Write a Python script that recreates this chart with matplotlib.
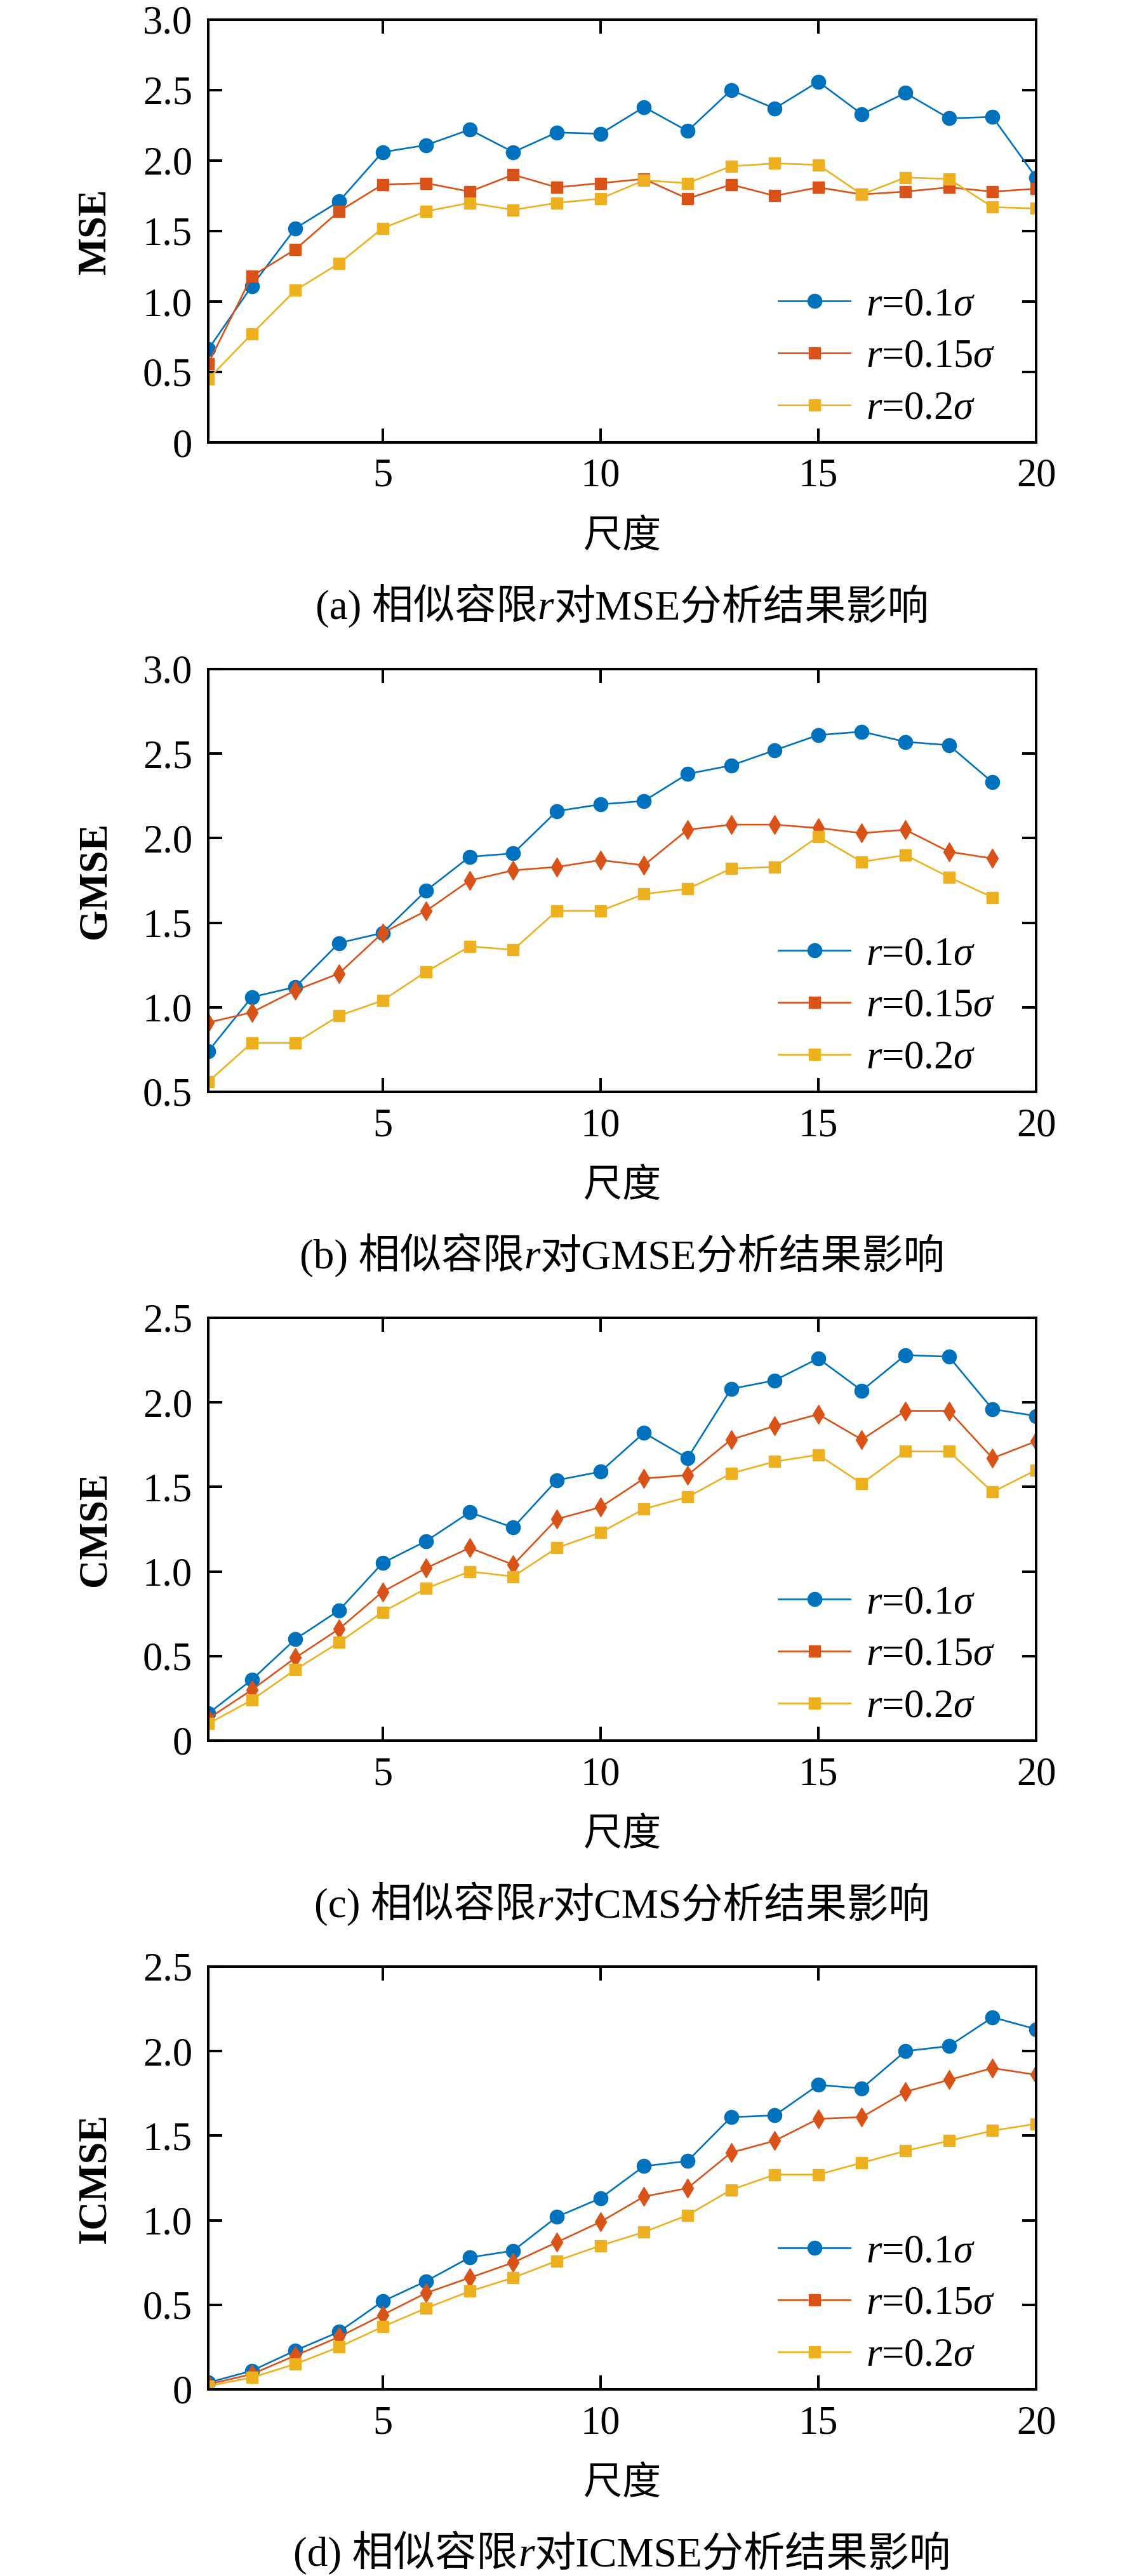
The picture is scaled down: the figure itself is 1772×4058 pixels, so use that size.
import numpy as np
import matplotlib
matplotlib.use('Agg')
import matplotlib.pyplot as plt
from matplotlib.lines import Line2D

plt.rcParams['font.family'] = ['Liberation Serif', 'Noto Sans CJK SC']
plt.rcParams['mathtext.fontset'] = 'custom'
plt.rcParams['mathtext.rm'] = 'Liberation Serif'
plt.rcParams['mathtext.it'] = 'Liberation Serif:italic'

# ---- data ----
scales20 = np.arange(1, 21)
scales19 = np.arange(1, 20)

mse_01 = [0.66, 1.11, 1.52, 1.71, 2.06, 2.11, 2.22, 2.06, 2.20, 2.19,
          2.38, 2.21, 2.50, 2.37, 2.56, 2.33, 2.48, 2.30, 2.31, 1.88]
mse_015 = [0.56, 1.18, 1.37, 1.64, 1.83, 1.84, 1.78, 1.90, 1.81, 1.84,
           1.87, 1.73, 1.83, 1.75, 1.81, 1.76, 1.78, 1.81, 1.78, 1.80]
mse_02 = [0.45, 0.77, 1.08, 1.27, 1.52, 1.64, 1.70, 1.65, 1.70, 1.73,
          1.86, 1.84, 1.96, 1.98, 1.97, 1.76, 1.88, 1.87, 1.67, 1.66]

gmse_01 = [0.74, 1.06, 1.12, 1.38, 1.44, 1.69, 1.89, 1.91, 2.16, 2.20,
           2.22, 2.38, 2.43, 2.52, 2.61, 2.63, 2.57, 2.55, 2.33]
gmse_015 = [0.91, 0.97, 1.10, 1.20, 1.44, 1.57, 1.75, 1.81, 1.83, 1.87,
            1.84, 2.05, 2.08, 2.08, 2.06, 2.03, 2.05, 1.92, 1.88]
gmse_02 = [0.56, 0.79, 0.79, 0.95, 1.04, 1.21, 1.36, 1.34, 1.57, 1.57,
           1.67, 1.70, 1.82, 1.83, 2.01, 1.86, 1.90, 1.77, 1.65]

cmse_01 = [0.16, 0.36, 0.60, 0.77, 1.05, 1.18, 1.35, 1.26, 1.54, 1.59,
           1.82, 1.67, 2.08, 2.13, 2.26, 2.07, 2.28, 2.27, 1.96, 1.92]
cmse_015 = [0.13, 0.30, 0.49, 0.66, 0.88, 1.02, 1.14, 1.04, 1.31, 1.38,
            1.55, 1.57, 1.78, 1.86, 1.93, 1.78, 1.95, 1.95, 1.67, 1.77]
cmse_02 = [0.10, 0.24, 0.42, 0.58, 0.76, 0.90, 1.00, 0.97, 1.14, 1.23,
           1.37, 1.44, 1.58, 1.65, 1.69, 1.52, 1.71, 1.71, 1.47, 1.60]

icmse_01 = [0.04, 0.11, 0.23, 0.34, 0.52, 0.64, 0.78, 0.82, 1.02, 1.13,
            1.32, 1.35, 1.61, 1.62, 1.80, 1.78, 2.00, 2.03, 2.20, 2.13]
icmse_015 = [0.03, 0.09, 0.20, 0.31, 0.44, 0.57, 0.66, 0.75, 0.87, 0.99,
             1.14, 1.19, 1.40, 1.47, 1.60, 1.61, 1.76, 1.83, 1.90, 1.86]
icmse_02 = [0.02, 0.07, 0.15, 0.25, 0.37, 0.48, 0.58, 0.66, 0.76, 0.85,
            0.93, 1.03, 1.18, 1.27, 1.27, 1.34, 1.41, 1.47, 1.53, 1.57]

labels = [r'$r$=0.1$\sigma$', r'$r$=0.15$\sigma$', r'$r$=0.2$\sigma$']
colors = ['#0072BD', '#D95319', '#EDB120']

W, H = 1772, 4058
fig = plt.figure(figsize=(W / 100, H / 100), dpi=100)

panels = [
    # top px, x, series, marker for series 2, ylabel, ylim, yticks, caption pieces
    (31, scales20, [mse_01, mse_015, mse_02], 's', 'MSE', (0, 3.0),
     ['0', '0.5', '1.0', '1.5', '2.0', '2.5', '3.0'],
     [('(a) 相似容限', 'normal'), ('r', 'italic'), ('对MSE分析结果影响', 'normal')]),
    (1054, scales19, [gmse_01, gmse_015, gmse_02], 'd', 'GMSE', (0.5, 3.0),
     ['0.5', '1.0', '1.5', '2.0', '2.5', '3.0'],
     [('(b) 相似容限', 'normal'), ('r', 'italic'), ('对GMSE分析结果影响', 'normal')]),
    (2076, scales20, [cmse_01, cmse_015, cmse_02], 'd', 'CMSE', (0, 2.5),
     ['0', '0.5', '1.0', '1.5', '2.0', '2.5'],
     [('(c) 相似容限', 'normal'), ('r', 'italic'), ('对CMS分析结果影响', 'normal')]),
    (3098, scales20, [icmse_01, icmse_015, icmse_02], 'd', 'ICMSE', (0, 2.5),
     ['0', '0.5', '1.0', '1.5', '2.0', '2.5'],
     [('(d) 相似容限', 'normal'), ('r', 'italic'), ('对ICMSE分析结果影响', 'normal')]),
]

ax_left, ax_w, ax_h = 328, 1304, 666
renderer = fig.canvas.get_renderer()

for top, xs, series, mk2, ylab, ylim, yticks, cap in panels:
    ax = fig.add_axes([ax_left / W, 1 - (top + ax_h) / H, ax_w / W, ax_h / H])
    markers = ['o', mk2, 's']
    sizes = [16, 15 if mk2 == 'd' else 13.5, 13.5]
    for ys, c, m, ms in zip(series, colors, markers, sizes):
        ax.plot(xs, ys, color=c, lw=1.9, marker=m, ms=ms, mec=c, mfc=c)

    ax.set_xlim(1, 20)
    ax.set_ylim(*ylim)
    ax.set_xticks([5, 10, 15, 20])
    ax.set_xticklabels(['5', '10', '15', '20'])
    ax.set_yticks([float(t) for t in yticks])
    ax.set_yticklabels(yticks)
    ax.tick_params(direction='in', top=True, right=True, length=15.5, width=2.9,
                   labelsize=45)
    ax.tick_params(axis='x', pad=18)
    ax.tick_params(axis='y', pad=18)
    for sp in ax.spines.values():
        sp.set_linewidth(2.9)

    ax.set_ylabel(ylab, fontsize=45, fontweight='bold', va='center')
    ax.yaxis.set_label_coords(-0.1365, 0.5)
    ax.set_xlabel('尺度', fontsize=44, va='center')
    ax.xaxis.set_label_coords(0.5, -0.225)

    handles = [Line2D([], [], color=colors[0], lw=1.9, marker='o', ms=16),
               Line2D([], [], color=colors[1], lw=1.9, marker='s', ms=13.5),
               Line2D([], [], color=colors[2], lw=1.9, marker='s', ms=13.5)]
    ax.legend(handles, labels, loc='lower left', bbox_to_anchor=(0.689, 0.035),
              frameon=False, fontsize=45, handlelength=1.8, handletextpad=0.4,
              labelspacing=0.38, borderpad=0, borderaxespad=0)

    # caption with italic r, centred under the axes
    texts = [fig.text(0, 1 - (top + 944) / H, s, fontsize=47, style=st, va='baseline')
             for s, st in cap]
    widths = [t.get_window_extent(renderer).width for t in texts]
    x = ax_left + ax_w / 2 - sum(widths) / 2
    for t, w in zip(texts, widths):
        t.set_x(x / W)
        x += w

fig.savefig('out.png', dpi=100)
